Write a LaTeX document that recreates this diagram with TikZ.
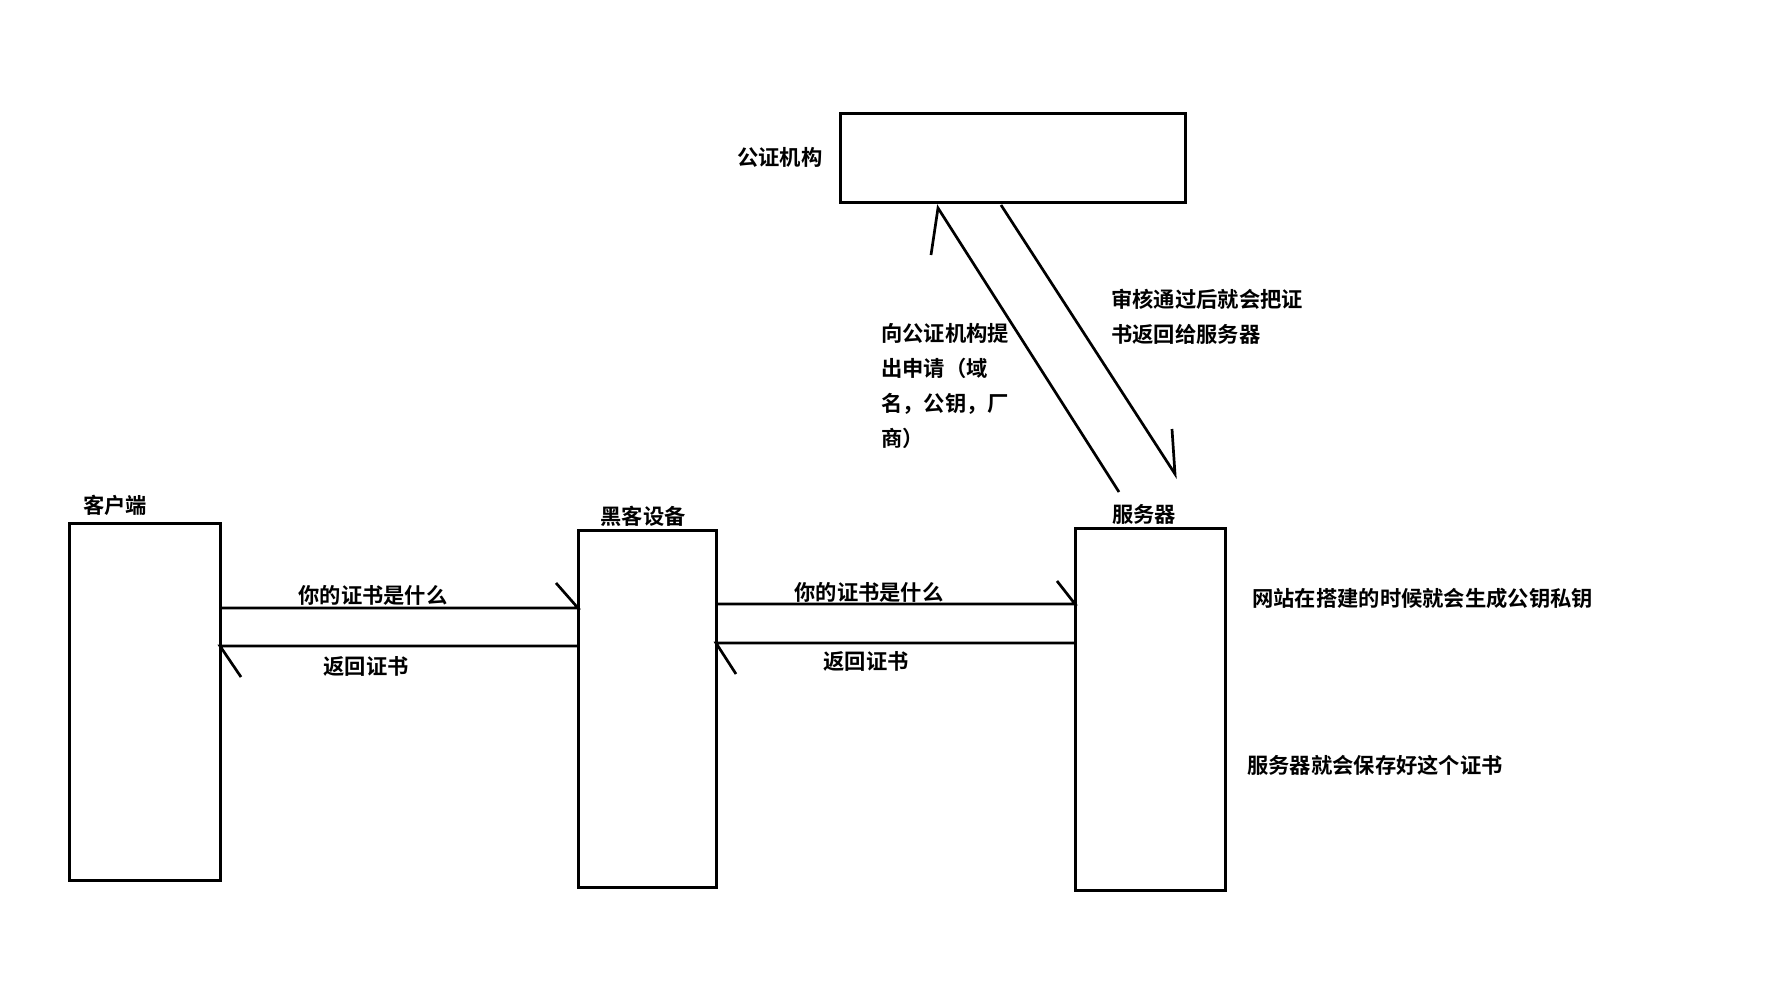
\documentclass[tikz,border=0pt]{standalone}
\usepackage{fontspec}
\newfontfamily\cjk{Noto Sans CJK SC Bold}
\begin{document}
\begin{tikzpicture}[x=1pt,y=-1pt,
  box/.style={draw=black,line width=3pt,fill=white,inner sep=0pt,outer sep=0pt},
  conn/.style={draw=black,line width=2.7pt,line cap=butt,line join=miter},
  lbl/.style={inner sep=0pt,font=\cjk\fontsize{21.3}{35}\selectfont},
]
\fill[white] (0,0) rectangle (1778,996);
\useasboundingbox (0,0) rectangle (1778,996);

% boxes
\node[box,minimum width=151pt,minimum height=357pt] (client) at (144.5,701.5) {};
\node[box,minimum width=138pt,minimum height=357pt] (hacker) at (647,708.5) {};
\node[box,minimum width=150pt,minimum height=362pt] (server) at (1150,709) {};
\node[box,minimum width=345pt,minimum height=89pt] (ca) at (1012.5,157.5) {};

% box labels
\node[lbl] (clientlbl) at (115,505) {客户端};
\node[lbl] (hackerlbl) at (643,516) {黑客设备};
\node[lbl] (serverlbl) at (1144,514) {服务器};
\node[lbl,anchor=west] (calbl) at (737,157) {公证机构};

% client <-> hacker
\draw[conn] (client.east |- 0,608) -- (hacker.west |- 0,608) -- +(-22,-25);
\draw[conn] (hacker.west |- 0,646) -- (client.east |- 0,646) -- +(21,31);
\node[lbl] (q1) at (373,595) {你的证书是什么};
\node[lbl] (r1) at (366,666) {返回证书};

% hacker <-> server
\draw[conn] (hacker.east |- 0,604) -- (server.west |- 0,604) -- +(-18,-23);
\draw[conn] (server.west |- 0,643) -- (hacker.east |- 0,643) -- +(20,31);
\node[lbl] (q2) at (869,592) {你的证书是什么};
\node[lbl] (r2) at (866,661) {返回证书};

% server <-> CA
\coordinate (reqS) at (1119,492);
\coordinate (reqE) at (938,208);
\coordinate (retS) at (1001,205);
\coordinate (retE) at (1175,474);
\draw[conn] (reqS) -- (reqE) -- +(-7,47);
\draw[conn] (retS) -- (retE) -- +(-3,-45);

\node[lbl,anchor=north west,align=left] (reqlbl) at (881,323.5)
  {向公证机构提\\出申请（域\\名，公钥，厂\\商）};
\node[lbl,anchor=north west,align=left] (retlbl) at (1111,288.5)
  {审核通过后就会把证\\书返回给服务器};

% notes
\node[lbl,anchor=west] (note1) at (1252,598) {网站在搭建的时候就会生成公钥私钥};
\node[lbl,anchor=west] (note2) at (1247,765) {服务器就会保存好这个证书};
\end{tikzpicture}
\end{document}
